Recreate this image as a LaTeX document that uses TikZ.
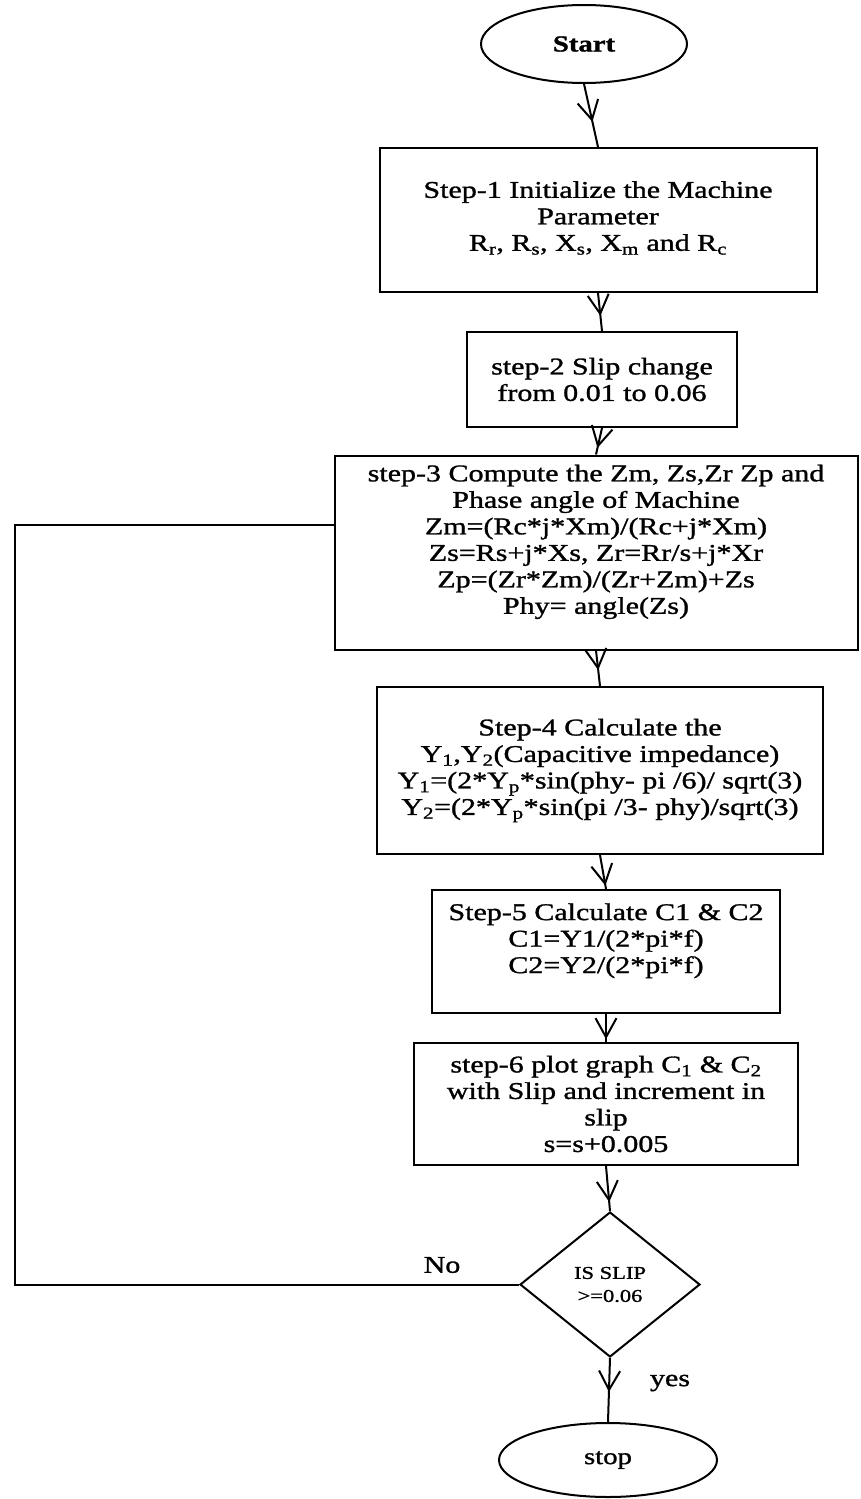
\documentclass[tikz,border=0pt]{standalone}
\usepackage{fontspec}
\setmainfont{Liberation Serif}[FakeStretch=1.25,FakeBold=1.2]
\usetikzlibrary{shapes.geometric,arrows.meta,decorations.markings}
\tikzset{
  line/.style={line width=2pt},
  stepbox/.style={draw,line width=2pt,rectangle,inner sep=0pt,align=center,
    font=\fontsize{24}{26.5}\selectfont},
  term/.style={draw,line width=2pt,ellipse,inner sep=0pt,
    font=\fontsize{23}{26}\selectfont},
  decide/.style={draw,line width=2pt,diamond,inner sep=0pt,align=center,
    font=\fontsize{18}{23}\selectfont},
  lbl/.style={font=\fontsize{24}{26}\selectfont,inner sep=0pt},
  midarrow/.style={line width=2pt,postaction={decorate},decoration={markings,
    mark=at position #1 with {\arrow{Straight Barb[length=19pt,width=21pt,line width=2pt]}}}}
}
\begin{document}
\begin{tikzpicture}[x=1pt,y=-1pt]
\useasboundingbox (0,0) rectangle (860,1499);

\node[term,minimum width=206pt,minimum height=78pt,font=\fontsize{23}{26}\selectfont\bfseries] (start) at (584,44) {Start};

\node[stepbox,minimum width=437pt,minimum height=144pt,text depth=8pt] (s1) at (598,220)
  {Step-1 Initialize the Machine\\ Parameter\\
   R\textsubscript{r}, R\textsubscript{s}, X\textsubscript{s}, X\textsubscript{m} and R\textsubscript{c}};

\node[stepbox,minimum width=270pt,minimum height=95pt] (s2) at (602,379.5)
  {step-2 Slip change\\ from 0.01 to 0.06};

\node[stepbox,minimum width=523pt,minimum height=194pt] (s3) at (596,552.5)
  {step-3 Compute the Zm, Zs,Zr Zp and\\ Phase angle of Machine\\
   Zm=(Rc*j*Xm)/(Rc+j*Xm)\\ Zs=Rs+j*Xs, Zr=Rr/s+j*Xr\\
   Zp=(Zr*Zm)/(Zr+Zm)+Zs\\ Phy= angle(Zs)\\ \mbox{}};

\node[stepbox,minimum width=446pt,minimum height=167pt] (s4) at (600,770.5)
  {Step-4 Calculate the\\ Y\textsubscript{1},Y\textsubscript{2}(Capacitive impedance)\\
   Y\textsubscript{1}=(2*Y\textsubscript{p}*sin(phy- pi /6)/ sqrt(3)\\
   Y\textsubscript{2}=(2*Y\textsubscript{p}*sin(pi /3- phy)/sqrt(3)};

\node[stepbox,minimum width=348pt,minimum height=123pt] (s5) at (606,951.5)
  {Step-5 Calculate C1 \& C2\\ C1=Y1/(2*pi*f)\\ C2=Y2/(2*pi*f)\\ \mbox{}};

\node[stepbox,minimum width=384pt,minimum height=122pt] (s6) at (606,1104)
  {step-6 plot graph C\textsubscript{1} \& C\textsubscript{2}\\ with Slip and increment in\\ slip\\ s=s+0.005};

\node[decide,minimum width=180pt,minimum height=145pt] (dia) at (610,1284.5)
  {IS SLIP\\ >=0.06};

\node[term,minimum width=218pt,minimum height=74pt] (stop) at (608,1460) {stop};

\node[lbl] (no) at (442,1265) {No};
\node[lbl] (yes) at (670,1383) {yes};

\draw[midarrow=0.6] (start.south) -- (s1.north);
\draw[midarrow=0.6] (s1.south) -- (s2.north);
\draw[midarrow=0.75] (s2.south) -- (s3.north);
\draw[midarrow=0.55] (s3.south) -- (s4.north);
\draw[midarrow=0.9] (s4.south) -- (s5.north);
\draw[midarrow=0.9] (s5.south) -- (s6.north);
\draw[midarrow=0.8] (s6.south) -- (dia.north);
\draw[midarrow=0.53] (dia.south) -- (stop.north);

\coordinate (lpt) at (15,525);
\draw[line] (dia.west) -| (lpt) -- (s3.west |- lpt);
\end{tikzpicture}
\end{document}
